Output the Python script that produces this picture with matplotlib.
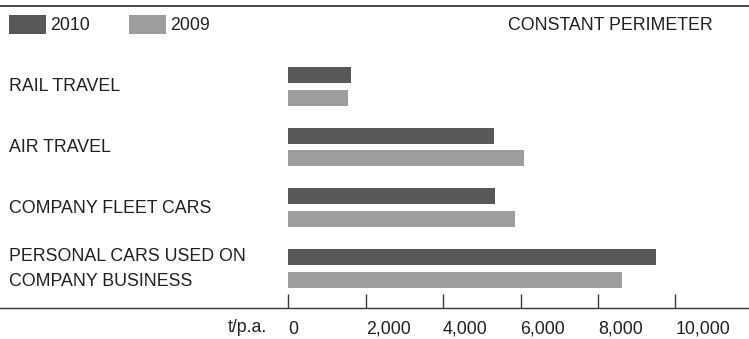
import matplotlib
matplotlib.use("Agg")
import matplotlib.pyplot as plt
from matplotlib.patches import Rectangle

plt.rcParams['font.family'] = ['Liberation Sans', 'DejaVu Sans']

# CO2 emissions from business travel, tonnes per annum
categories = ["RAIL TRAVEL", "AIR TRAVEL", "COMPANY FLEET CARS",
              "PERSONAL CARS USED ON\nCOMPANY BUSINESS"]
values_2010 = [1620, 5320, 5340, 9500]
values_2009 = [1540, 6090, 5860, 8620]
series_labels = ["2010", "2009"]
tick_values = [0, 2000, 4000, 6000, 8000, 10000]
unit_label = "t/p.a."
scope_label = "CONSTANT PERIMETER"

COL_2010 = "#58585a"
COL_2009 = "#9d9ea0"
TEXT = "#231f20"
LINE = "#3a3a3a"

W, H = 749, 339
fig = plt.figure(figsize=(W / 100, H / 100), dpi=100)

# Horizontal scale: zero sits at x=288 px, 10,000 at x=675 px
x0_px, x10k_px = 288.3, 675.3
ppu = (x10k_px - x0_px) / 10000.0

ax = fig.add_axes([0, 0, 1, 1])
ax.set_xlim(-x0_px / ppu, (W - x0_px) / ppu)
ax.set_ylim(H, 0)          # y measured in pixels from the top
ax.patch.set_alpha(0)

group_top = 75.0
group_step = 60.67
pair_gap = 22.5
bar_h = 16

y2010 = [group_top + i * group_step for i in range(len(categories))]
y2009 = [y + pair_gap for y in y2010]

ax.barh(y2010, values_2010, height=bar_h, color=COL_2010, linewidth=0)
ax.barh(y2009, values_2009, height=bar_h, color=COL_2009, linewidth=0)

# Frame: rule on top, value axis at the bottom
for s in ("left", "right"):
    ax.spines[s].set_visible(False)
ax.spines["top"].set_position(("data", 6))
ax.spines["top"].set_color(LINE)
ax.spines["top"].set_linewidth(1.3)
ax.spines["bottom"].set_position(("data", 308))
ax.spines["bottom"].set_color(LINE)
ax.spines["bottom"].set_linewidth(1.0)

fs = 12.8

ax.set_yticks([])
ax.set_xticks(tick_values)
ax.set_xticklabels([f"{v:,}" for v in tick_values])
ax.tick_params(axis="x", direction="in", length=10, width=1.0, color=LINE,
               pad=9, labelsize=fs, labelcolor=TEXT)
for lbl in ax.get_xticklabels():
    lbl.set_horizontalalignment("left")

# Overlay in pixel coordinates for labels and legend
deco = fig.add_axes([0, 0, 1, 1])
deco.set_xlim(0, W)
deco.set_ylim(H, 0)
deco.axis("off")

for cat, ya, yb in zip(categories, y2010, y2009):
    deco.text(9, (ya + yb) / 2 + 0.5, cat, ha="left", va="center",
              fontsize=fs, color=TEXT, linespacing=1.6)

deco.text(267, 328, unit_label, ha="right", va="center", fontsize=fs, color=TEXT)

# Legend
deco.add_patch(Rectangle((9, 15), 37, 19, color=COL_2010, lw=0))
deco.text(50, 25, series_labels[0], ha="left", va="center", fontsize=fs, color=TEXT)
deco.add_patch(Rectangle((129, 15), 37, 19, color=COL_2009, lw=0))
deco.text(170, 25, series_labels[1], ha="left", va="center", fontsize=fs, color=TEXT)
deco.text(508, 26, scope_label, ha="left", va="center", fontsize=fs, color=TEXT)

fig.savefig("out.png", dpi=100)
